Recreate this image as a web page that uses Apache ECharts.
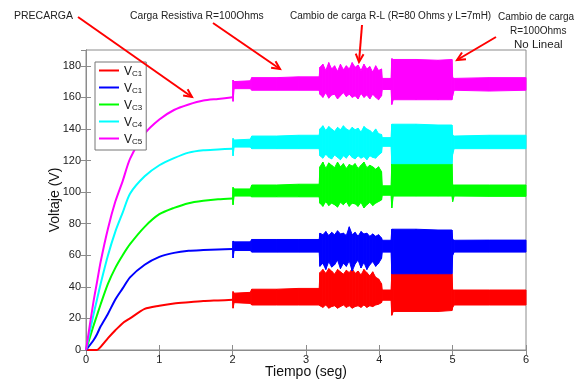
<!DOCTYPE html>
<html>
<head>
<meta charset="utf-8">
<script src="https://cdn.jsdelivr.net/npm/echarts@6/dist/echarts.min.js"></script>
<style>
html, body { margin: 0; background: #fff; }
#chart { width: 579px; height: 384px; }
</style>
</head>
<body>
<div id="chart"></div>
<script>
// precarga (0 - 2 s)
const chargeT = [0, 0.1, 0.15, 0.2, 0.3, 0.4, 0.5, 0.6, 0.8, 1.0, 1.2, 1.4, 1.6, 1.8, 2.0];
const chargeC1 = [0, 0, 0, 2, 7.5, 12.5, 17, 20, 26, 28, 29.5, 30.3, 31, 31.4, 31.8];
const chargeC2 = [0, 6, 10, 15, 23, 32, 39, 46, 54, 59, 61.5, 62.8, 63.3, 63.7, 64];
const chargeC3 = [0, 15, 22, 29, 42, 52, 60, 67, 78, 86, 90, 93, 94.5, 95.5, 96];
const chargeC4 = [0, 22, 32, 42, 60, 75, 87, 99, 110, 117, 121.5, 125, 126.5, 127, 127.5];
const chargeC5 = [0, 30, 43, 56, 77, 94, 107, 121, 137, 146, 152, 155.5, 158, 159, 160];

// envolvente del rizado (2 - 6 s): maximo / minimo
const bandT = [2.0, 2.005, 2.02, 2.24, 2.26, 2.6, 2.9, 3.18,
  3.19, 3.23, 3.27, 3.31, 3.35, 3.39, 3.43, 3.47, 3.51, 3.55, 3.59, 3.63, 3.67, 3.71, 3.75, 3.79, 3.83, 3.87, 3.91, 3.95, 3.99, 4.03,
  4.04, 4.16, 4.17, 4.19, 4.5, 4.8, 4.99, 5.0, 5.02, 5.5, 6.0];

const hiC1 = [31.8, 37, 36, 36.5, 38.5, 38.5, 39, 39,
  49, 51, 48.5, 51.5, 50, 48, 51, 49.5, 48, 50.5, 49, 51.5, 48.5, 50, 47.5, 51, 49, 47, 49.5, 46, 45, 42,
  38, 38, 48.3, 48.3, 48.3, 48.3, 48.3, 38, 38, 38, 38];
const loC1 = [31.8, 26.5, 30, 29.5, 28.5, 28.5, 28.5, 28.5,
  28, 27, 28.5, 26.5, 27.5, 28, 26.5, 27.5, 28.5, 27, 28, 26.5, 27.5, 28, 27, 28.5, 27, 28, 27.5, 28.5, 29, 30,
  31.5, 31.5, 22, 24.4, 24.4, 24.4, 25, 27, 28.5, 28.5, 28.5];

const hiC2 = [64, 69, 68.5, 68.5, 70, 70, 70, 70,
  74, 73, 75, 72.5, 74.5, 73, 75.5, 73.5, 74, 72.5, 78, 73, 74.5, 72, 75, 73.5, 74, 72, 73.5, 72, 73, 71,
  69.5, 69.5, 76.5, 76.5, 76.5, 76, 76, 70, 69.5, 69.6, 69.6];
const loC2 = [64, 58.3, 63, 63, 62, 62, 62, 62,
  53, 55, 51, 56, 52.5, 54, 57, 51.5, 55, 53, 56.5, 50, 54.5, 57, 52, 55.5, 51, 54, 56, 53, 55, 58,
  62, 62, 48.3, 48.3, 48.3, 48.3, 48.3, 60, 62, 62, 62];

const hiC3 = [96, 103, 102, 102, 104.5, 104.5, 105, 105,
  116, 119, 115, 118.5, 117, 115.5, 119, 116, 118, 115, 117.5, 116.5, 118, 115, 117, 119, 115.5, 117, 116, 114.5, 116, 113,
  104, 104, 118, 118, 118, 118, 118, 104.5, 104.5, 104.5, 104.5];
const loC3 = [96, 92, 97.5, 97.5, 97, 97, 97, 97,
  93, 91, 94, 91.5, 93, 92, 90.5, 93.5, 92, 94, 91, 93, 92.5, 91, 93.5, 90, 92, 93.5, 91.5, 93, 94, 95,
  98, 98, 90, 97.5, 97.5, 97.5, 97.5, 94, 97.5, 97.3, 97.3];

const hiC4 = [127.5, 134, 133, 133.5, 135.5, 135.5, 136, 136,
  140, 142, 139, 141.5, 140, 138.5, 141, 139.5, 142, 140, 139, 141, 139.5, 140.5, 138, 141.5, 140, 139, 137.5, 140, 137, 136.5,
  134.5, 134.5, 143, 143, 143, 142.5, 142.5, 136, 135.5, 136, 136];
const loC4 = [127.5, 123, 128.5, 128.5, 127.5, 127.5, 127.5, 127.5,
  123, 121.5, 124, 122, 121, 123.5, 122, 120.5, 123, 121.5, 124, 122, 121, 123, 121.5, 122.5, 120.5, 123, 122, 121.5, 123.5, 125,
  129, 129, 118, 118, 118, 118, 118, 124, 127.5, 127.5, 127.5];

const hiC5 = [160, 171, 170, 170.5, 172.5, 172.5, 173, 173,
  179, 181, 177, 182, 178, 180, 176.5, 181, 177.5, 180, 178, 182, 179, 180.5, 177, 181, 178, 179.5, 176, 180, 177, 178,
  172, 172, 184.5, 184, 184, 183.5, 184, 172.5, 172, 172.5, 172.5];
const loC5 = [160, 157.5, 165.5, 165.5, 164.5, 164.5, 164.5, 164.5,
  162, 160, 163, 159.5, 161.5, 162, 159, 161, 163, 160.5, 162, 160, 161, 159, 162.5, 160, 161.5, 159, 162, 160, 158.5, 161,
  165, 165, 155.5, 158.5, 158.5, 158.5, 158.5, 161, 164.5, 164, 164.5];

const names = ['VC1', 'VC2', 'VC3', 'VC4', 'VC5'];
const legendSubs = ['C1', 'C1', 'C3', 'C4', 'C5'];
const xTicks = [0, 1, 2, 3, 4, 5, 6];
const yTicks = [0, 20, 40, 60, 80, 100, 120, 140, 160, 180];

const colors = ['#ff0000', '#0000ff', '#00ff00', '#00ffff', '#ff00ff'];
const charges = [chargeC1, chargeC2, chargeC3, chargeC4, chargeC5];
const his = [hiC1, hiC2, hiC3, hiC4, hiC5];
const los = [loC1, loC2, loC3, loC4, loC5];

var myChart = echarts.init(document.getElementById('chart'));

function bandItem(color) {
    return function (params, api) {
        var a = api.coord([api.value(0), api.value(2)]);
        var b = api.coord([api.value(1), api.value(3)]);
        var c = api.coord([api.value(1), api.value(5)]);
        var d = api.coord([api.value(0), api.value(4)]);
        return {
            type: 'polygon',
            shape: { points: [a, b, c, d] },
            style: { fill: color, stroke: color, lineWidth: 1 }
        };
    };
}

var series = [];
names.forEach(function (name, k) {
    series.push({
        name: name,
        type: 'line',
        data: chargeT.map(function (t, i) { return [t, charges[k][i]]; }),
        showSymbol: false,
        smooth: 0.25,
        color: colors[k],
        lineStyle: { width: 2, color: colors[k] }
    });
    series.push({
        type: 'custom',
        silent: true,
        renderItem: bandItem(colors[k]),
        encode: { x: [0, 1], y: [2, 3, 4, 5] },
        data: bandT.slice(1).map(function (t, i) {
            return [bandT[i], t, his[k][i], his[k][i + 1], los[k][i], los[k][i + 1]];
        })
    });
});

// flechas rojas de las anotaciones
function arrow(x1, y1, x2, y2) {
    var ang = Math.atan2(y2 - y1, x2 - x1);
    var len = 9, spread = 0.45;
    var p1 = [x2 - len * Math.cos(ang - spread), y2 - len * Math.sin(ang - spread)];
    var p2 = [x2 - len * Math.cos(ang + spread), y2 - len * Math.sin(ang + spread)];
    var st = { stroke: '#ff0000', lineWidth: 2, fill: null };
    return [
        { type: 'line', shape: { x1: x1, y1: y1, x2: x2, y2: y2 }, style: st, z: 100 },
        { type: 'polyline', shape: { points: [p1, [x2, y2], p2] }, style: st, z: 100 }
    ];
}

function label(text, x, y, size) {
    return {
        type: 'text', x: x, y: y, z: 100,
        style: { text: text, fill: '#222', font: size + 'px "Liberation Sans", Arial, sans-serif', textVerticalAlign: 'middle' }
    };
}

var axisFont = '"Liberation Sans", Arial, sans-serif';

var option = {
    animation: false,
    backgroundColor: '#fff',
    grid: { left: 86, right: 53, top: 50, bottom: 30, show: true, borderColor: '#8c8c8c', borderWidth: 1 },
    legend: {
        orient: 'vertical',
        left: 95, top: 62,
        data: names,
        icon: 'rect',
        itemWidth: 20, itemHeight: 2,
        itemGap: 5,
        padding: [4, 4, 4, 4],
        backgroundColor: '#fff',
        borderColor: '#777', borderWidth: 1, borderRadius: 0,
        formatter: function (name) {
            return '{v|V}{s|' + legendSubs[names.indexOf(name)] + '}';
        },
        textStyle: {
            fontFamily: axisFont,
            rich: {
                v: { fontSize: 12, color: '#111', lineHeight: 15, verticalAlign: 'bottom' },
                s: { fontSize: 8, color: '#111', lineHeight: 15, verticalAlign: 'bottom', padding: [4, 0, 0, 0] }
            }
        }
    },
    xAxis: [{
        type: 'value', min: xTicks[0], max: xTicks[xTicks.length - 1], interval: 1,
        name: 'Tiempo (seg)', nameLocation: 'middle', nameGap: 15, nameMoveOverlap: false,
        nameTextStyle: { fontFamily: axisFont, fontSize: 14, color: '#111', verticalAlign: 'top' },
        axisLine: { lineStyle: { color: '#8c8c8c' } },
        axisTick: { inside: true, length: 5, lineStyle: { color: '#8c8c8c' } },
        axisLabel: { fontFamily: axisFont, fontSize: 11, color: '#222', margin: 4 },
        splitLine: { show: false }
    }, {
        type: 'value', position: 'top', min: xTicks[0], max: xTicks[xTicks.length - 1], interval: 1,
        axisLine: { lineStyle: { color: '#8c8c8c' } },
        axisTick: { inside: true, length: 5, lineStyle: { color: '#8c8c8c' } },
        axisLabel: { show: false },
        splitLine: { show: false }
    }],
    yAxis: [{
        type: 'value', min: yTicks[0], max: 190, interval: 20,
        name: 'Voltaje (V)', nameLocation: 'middle', nameGap: 24, nameMoveOverlap: false,
        nameTextStyle: { fontFamily: axisFont, fontSize: 14, color: '#111' },
        axisLine: { show: true, lineStyle: { color: '#8c8c8c' } },
        axisTick: { show: true, inside: true, length: 5, lineStyle: { color: '#8c8c8c' } },
        axisLabel: { fontFamily: axisFont, fontSize: 11, color: '#222', margin: 5, showMaxLabel: false },
        splitLine: { show: false }
    }, {
        type: 'value', position: 'right', min: yTicks[0], max: 190, interval: 20,
        axisLine: { show: true, lineStyle: { color: '#8c8c8c' } },
        axisTick: { show: true, inside: true, length: 5, lineStyle: { color: '#8c8c8c' } },
        axisLabel: { show: false },
        splitLine: { show: false }
    }],
    series: series,
    graphic: [].concat(
        arrow(78, 17, 192, 97),
        arrow(213, 23, 280, 69),
        arrow(362, 25, 359, 62),
        arrow(496, 37, 457, 60),
        [
            label('PRECARGA', 14, 16, 10.5),
            label('Carga Resistiva R=100Ohms', 130, 16, 10.3),
            label('Cambio de carga R-L (R=80 Ohms y L=7mH)', 290, 16, 10),
            label('Cambio de carga', 498, 17, 10),
            label('R=100Ohms', 510, 31, 10),
            label('No Lineal', 514, 45, 11.5)
        ]
    )
};

option && myChart.setOption(option);
</script>
</body>
</html>
